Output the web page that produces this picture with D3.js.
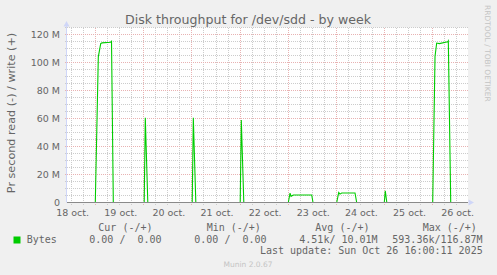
<!DOCTYPE html>
<html><head><meta charset="utf-8">
<script src="https://cdn.jsdelivr.net/npm/d3@7"></script>
<style>
body{margin:0;background:#f0f0f0;}
svg{display:block;}
text{white-space:pre;}
</style>
</head><body>
<svg id="c" width="497" height="275"></svg>
<script>
const title = "Disk throughput for /dev/sdd - by week";
const yLabel = "Pr second read (-) / write (+)";
const seriesName = "Bytes";
const lastUpdate = "Last update: Sun Oct 26 16:00:11 2025";
const footer = "Munin 2.0.67";
const sideText = "RRDTOOL / TOBI OETIKER";

const timeStart = "2025-10-18T09:41";
const timeEnd = "2025-10-26T17:41";
const yMax = 125;

// write throughput, in M bytes/s
const writeTimes = [
  "2025-10-18T09:41",
  "2025-10-18T23:48","2025-10-19T01:18","2025-10-19T02:30","2025-10-19T03:08","2025-10-19T07:23","2025-10-19T07:53","2025-10-19T08:47",
  "2025-10-20T00:11","2025-10-20T00:44","2025-10-20T01:59",
  "2025-10-21T00:08","2025-10-21T00:41","2025-10-21T01:56",
  "2025-10-22T00:04","2025-10-22T00:37","2025-10-22T01:52",
  "2025-10-23T00:04","2025-10-23T00:55","2025-10-23T01:25","2025-10-23T02:33","2025-10-23T11:44","2025-10-23T12:23",
  "2025-10-24T00:12","2025-10-24T01:12","2025-10-24T01:51","2025-10-24T02:41","2025-10-24T09:20","2025-10-24T10:10",
  "2025-10-24T23:56","2025-10-25T00:26","2025-10-25T01:11",
  "2025-10-26T00:05","2025-10-26T01:14","2025-10-26T02:04","2025-10-26T03:22","2025-10-26T07:34","2025-10-26T07:52","2025-10-26T09:04",
  "2025-10-26T17:41"
];
const writeValues = [
  0,
  0,104,113.5,114,114.5,115.2,0,
  0,60.5,0,
  0,60.5,0,
  0,59,0,
  0,6.7,4.4,5.4,5.4,0,
  0,7.1,6.0,6.8,6.8,0,
  0,8.4,0,
  0,104.3,113.9,113.5,114.8,115.5,0,
  0
];

const xTickDays = ["2025-10-18","2025-10-19","2025-10-20","2025-10-21","2025-10-22","2025-10-23","2025-10-24","2025-10-25","2025-10-26"];
const xTickLabels = ["18 oct.","19 oct.","20 oct.","21 oct.","22 oct.","23 oct.","24 oct.","25 oct.","26 oct."];
const yTicks = [0,20,40,60,80,100,120];
const yTickLabels = ["0","20 M","40 M","60 M","80 M","100 M","120 M"];

const legendHeaders = ["Cur (-/+)","Min (-/+)","Avg (-/+)","Max (-/+)"];
const legendValues = ["0.00 /  0.00","0.00 /  0.00","4.51k/ 10.01M","593.36k/116.87M"];

const parseT = d3.timeParse("%Y-%m-%dT%H:%M");
const parseD = d3.timeParse("%Y-%m-%d");

const svg = d3.select("#c");
const W = 497, H = 275;
const L = 67, R = 468, T = 27.5, B = 202.5;

svg.append("rect").attr("width",W).attr("height",H).attr("fill","#f0f0f0");

const x = d3.scaleTime().domain([parseT(timeStart), parseT(timeEnd)]).range([L, R]);
const y = d3.scaleLinear().domain([0, yMax]).range([B, T]);

const FONT = "DejaVu Sans, sans-serif";
const MONO = "DejaVu Sans Mono, monospace";
const FCOL = "#666666";
const MINOR = "#cccccc", MAJOR = "#e8b2b2";

// canvas
svg.append("rect").attr("x",L).attr("y",T).attr("width",R-L).attr("height",B-T).attr("fill","#ffffff");

const px = v => Math.floor(v) + 0.5;

// minor grid
const g = svg.append("g");
d3.range(0, yMax + 0.001, 5).forEach(v => {
  if (v % 20 === 0) return;
  g.append("line").attr("x1",L-2).attr("x2",R).attr("y1",px(y(v))).attr("y2",px(y(v)))
    .attr("stroke",MINOR).attr("stroke-dasharray","1,1");
});
d3.timeHour.every(6).range(x.domain()[0], x.domain()[1]).forEach(t => {
  if (t.getHours() === 0) return;
  g.append("line").attr("x1",px(x(t))).attr("x2",px(x(t))).attr("y1",28).attr("y2",205)
    .attr("stroke",MINOR).attr("stroke-dasharray","1,1");
});
// major grid
yTicks.forEach(v => {
  if (v === 0) return;
  g.append("line").attr("x1",L-2).attr("x2",R).attr("y1",px(y(v))).attr("y2",px(y(v)))
    .attr("stroke",MAJOR).attr("stroke-dasharray","1,1");
});
d3.timeDay.every(1).range(x.domain()[0], x.domain()[1]).forEach(t => {
  g.append("line").attr("x1",px(x(t))).attr("x2",px(x(t))).attr("y1",28).attr("y2",205)
    .attr("stroke",MAJOR).attr("stroke-dasharray","1,1");
});

// series
const pts = writeTimes.map((t,i) => [parseT(t), writeValues[i]]);
svg.append("path").datum(pts)
  .attr("d", d3.line().x(d => x(d[0])).y(d => y(d[1])))
  .attr("fill","none").attr("stroke","#00cc00").attr("stroke-width",1.1);

// zero line and axes
svg.append("line").attr("x1",L).attr("x2",R).attr("y1",B).attr("y2",B).attr("stroke","#8a8a8a");
svg.append("line").attr("x1",66.5).attr("x2",66.5).attr("y1",25).attr("y2",B).attr("stroke","#cfd6f8");
svg.append("path").attr("d","M66.5,21L63.5,26.5L69.5,26.5Z").attr("fill","#cfd6f8");
svg.append("path").attr("d","M474,202.5L468.5,199.5L468.5,205.5Z").attr("fill","#cfd6f8");

// y tick labels
yTicks.forEach((v,i) => {
  svg.append("text").attr("x",60).attr("y",y(v)+3.6).attr("text-anchor","end")
    .attr("font-family",FONT).attr("font-size",9.5).attr("fill",FCOL).text(yTickLabels[i]);
});
// x tick labels (centered at noon)
xTickDays.forEach((d,i) => {
  const t = d3.timeHour.offset(parseD(d), 12);
  svg.append("text").attr("x",x(t)+1).attr("y",215.5).attr("text-anchor","middle")
    .attr("font-family",FONT).attr("font-size",9.5).attr("fill",FCOL).text(xTickLabels[i]);
});

// title
svg.append("text").attr("x",248).attr("y",23.8).attr("text-anchor","middle")
  .attr("font-family",FONT).attr("font-size",12.6).attr("fill",FCOL).text(title);
// y label
svg.append("text").attr("transform","translate(15,113) rotate(-90)").attr("text-anchor","middle")
  .attr("font-family",FONT).attr("font-size",11.2).attr("fill",FCOL).text(yLabel);
// side text
svg.append("text").attr("transform","translate(485,5) rotate(90)").attr("text-anchor","start")
  .attr("font-family",FONT).attr("font-size",7.5).attr("fill","#c4c4c4").text(sideText);

// legend
const hx = [98.3, 206.7, 315.3, 422.7];
const vx = [89.3, 194.3, 299.3, 392.3];
legendHeaders.forEach((h,i) => {
  svg.append("text").attr("x",hx[i]).attr("y",230.8).attr("font-family",MONO).attr("font-size",10)
    .attr("fill",FCOL).text(h);
});
svg.append("rect").attr("x",13.5).attr("y",236.5).attr("width",7).attr("height",7).attr("fill","#00cc00");
svg.append("text").attr("x",26.7).attr("y",242.7).attr("font-family",MONO).attr("font-size",10)
  .attr("fill",FCOL).text(seriesName);
legendValues.forEach((v,i) => {
  svg.append("text").attr("x",vx[i]).attr("y",242.7).attr("font-family",MONO).attr("font-size",10)
    .attr("fill",FCOL).text(v);
});
svg.append("text").attr("x",482.7).attr("y",254).attr("text-anchor","end").attr("font-family",MONO)
  .attr("font-size",10).attr("fill",FCOL).text(lastUpdate);
svg.append("text").attr("x",248).attr("y",267).attr("text-anchor","middle").attr("font-family",FONT)
  .attr("font-size",7.5).attr("fill","#c4c4c4").text(footer);
</script>
</body></html>
